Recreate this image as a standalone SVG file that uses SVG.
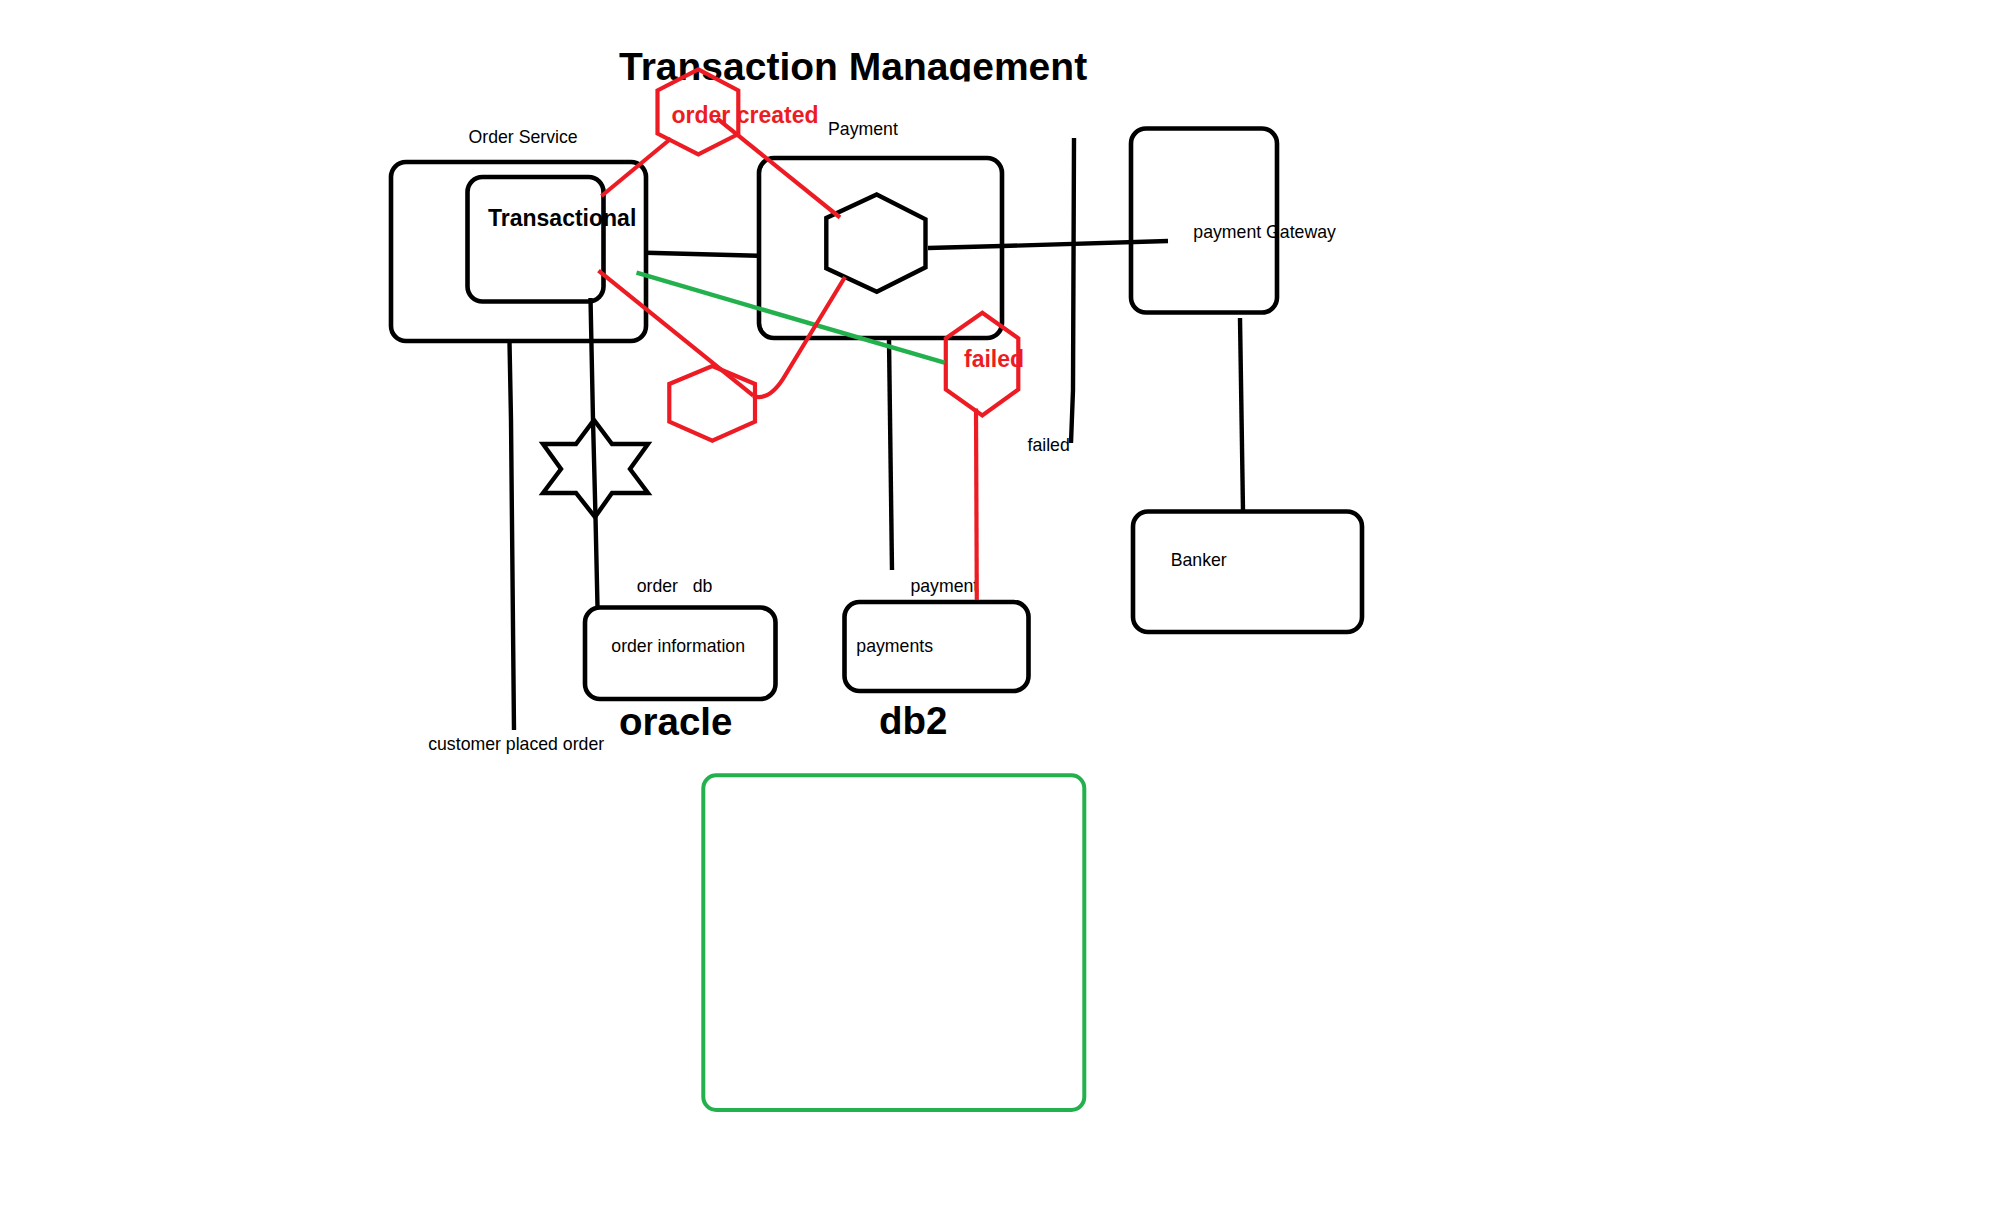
<svg xmlns="http://www.w3.org/2000/svg" width="1992" height="1227" viewBox="0 0 1992 1227">
<defs>
<style>
.box{fill:none;stroke:#000;stroke-width:4.6}
.blk{fill:none;stroke:#000;stroke-width:4.4;stroke-linejoin:miter}
.red{fill:none;stroke:#ED1C24;stroke-width:4.2;stroke-linejoin:miter}
.grn{fill:none;stroke:#22B14C;stroke-width:4.4}
.lbl{font-family:"Liberation Sans",Arial,sans-serif;font-size:17.7px;fill:#000}
.bold{font-family:"Liberation Sans",Arial,sans-serif;font-weight:bold;fill:#000}
.rt{fill:#ED1C24}
</style>
<clipPath id="titleClip"><rect x="0" y="0" width="1992" height="81.5"/></clipPath>
</defs>
<rect x="0" y="0" width="1992" height="1227" fill="#fff"/>

<g id="title" clip-path="url(#titleClip)">
<text class="bold" x="619" y="80" font-size="39">Transaction Management</text>
</g>

<g id="order-service">
<text class="lbl" x="468.5" y="142.7">Order Service</text>
<rect class="box" x="391" y="162" width="255" height="179" rx="15"/>
</g>

<g id="transactional">
<text class="bold" x="488" y="225.5" font-size="23">Transactional</text>
<rect class="box" x="467.5" y="177" width="136" height="124.5" rx="15"/>
</g>

<g id="payment">
<text class="lbl" x="828" y="135.3">Payment</text>
<rect class="box" x="759" y="158" width="243" height="180" rx="15"/>
</g>

<g id="payment-hexagon">
<polygon class="blk" points="876.7,194.5 925.5,219.3 925.5,267.3 876.8,291.7 826.3,268.3 826.3,218"/>
</g>

<g id="order-created">
<text class="bold rt" x="671.5" y="123.3" font-size="23">order created</text>
<polygon class="red" points="698.3,69.3 738.3,90.5 738.3,134 698.3,154.3 657.5,133.5 657.5,90.5"/>
</g>

<g id="failed-event">
<text class="bold rt" x="964" y="366.7" font-size="23">failed</text>
<polygon class="red" points="982.3,312.7 1018.3,338.3 1018.3,389.5 982.3,415.5 945.8,389.5 945.8,338.3"/>
</g>

<g id="lower-hexagon">
<polygon class="red" points="712.3,366 755,384 755,421.7 712.3,440.7 669.3,421.7 669.3,384"/>
</g>

<g id="star">
<polygon class="blk" points="594,420 612,444 648,444 630,469 648,493 612,493 595,517 576,493 543,493 561,469 543,444 576,444"/>
</g>

<g id="payment-gateway">
<text class="lbl" x="1193.3" y="237.5">payment Gateway</text>
<rect class="box" x="1131" y="128.5" width="146" height="184" rx="15"/>
</g>

<g id="banker">
<text class="lbl" x="1170.7" y="566">Banker</text>
<rect class="box" x="1133" y="511.5" width="229" height="120.5" rx="15"/>
</g>

<g id="order-information">
<text class="lbl" x="636.7" y="591.7" xml:space="preserve">order   db</text>
<text class="lbl" x="611.3" y="651.7">order information</text>
<rect class="box" x="585" y="607.5" width="190.5" height="91.5" rx="15"/>
<text class="bold" x="619" y="735" font-size="38.5">oracle</text>
</g>

<g id="payments">
<text class="lbl" x="910.4" y="591.7">payment</text>
<text class="lbl" x="856.3" y="651.7">payments</text>
<rect class="box" x="844.5" y="602" width="184" height="89" rx="15"/>
<text class="bold" x="879" y="733.5" font-size="38.5">db2</text>
</g>

<g id="green-box">
<rect x="703.3" y="775.3" width="381" height="334.7" rx="13" fill="none" stroke="#22B14C" stroke-width="4"/>
</g>

<g id="free-labels">
<text class="lbl" x="428.2" y="750">customer placed order</text>
<text class="lbl" x="1027.5" y="451">failed</text>
</g>

<g id="connectors">
<polyline class="blk" points="646,252.7 758,255.7"/>
<polyline class="blk" points="928,248 1002,246 1168,241"/>
<polyline class="blk" points="1074,138 1073,390 1071,443"/>
<polyline class="blk" points="1240,318 1243,511"/>
<polyline class="blk" points="509.5,342 511,420 514,730"/>
<polyline class="blk" points="590.5,298 593,420 595.5,517 597.5,607"/>
<polyline class="blk" points="889,340 892,570"/>
<polyline class="grn" points="636.5,272.7 944.5,362.7"/>
<polyline class="red" points="601.5,196 671,138.5"/>
<polyline class="red" points="717,118.3 840,217.5"/>
<polyline class="red" points="598.5,270.7 753.3,395.7"/>
<path class="red" d="M845,277 L786,374 Q770,402 753,396"/>
<polyline class="red" points="976,408.5 976.8,600"/>
</g>
</svg>
